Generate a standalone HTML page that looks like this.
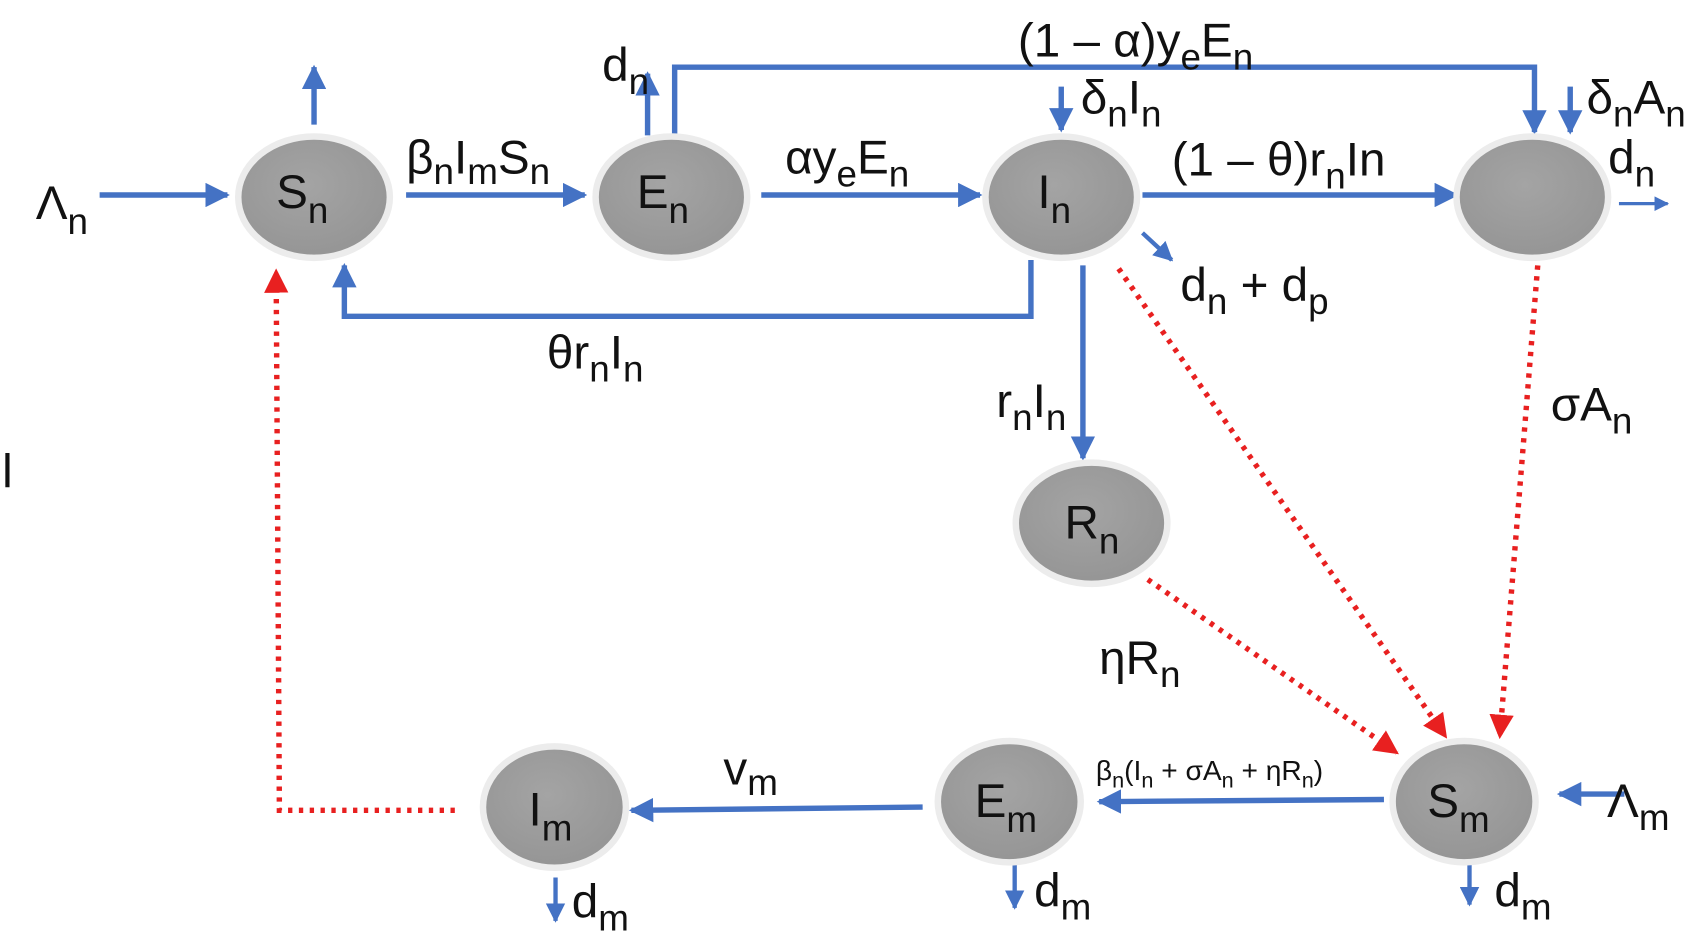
<!DOCTYPE html>
<html><head><meta charset="utf-8"><style>html,body{margin:0;padding:0;background:#fff}svg{display:block}text{font-family:"Liberation Sans",sans-serif;fill:#111}</style></head><body>
<svg width="1698" height="949" viewBox="0 0 1568 876" preserveAspectRatio="none" xmlns="http://www.w3.org/2000/svg">
<defs>
<marker id="b" viewBox="0 0 10 10" refX="9" refY="5" markerWidth="4.5" markerHeight="4.5" orient="auto"><path d="M0,0L10,5L0,10z" fill="#4472c4"/></marker>
<marker id="r" viewBox="0 0 10 10" refX="9" refY="5" markerWidth="4.5" markerHeight="4.5" orient="auto"><path d="M0,0L10,5L0,10z" fill="#e82020"/></marker>
<radialGradient id="g" cx="0.45" cy="0.4" r="0.6"><stop offset="0" stop-color="#a4a4a4"/><stop offset="1" stop-color="#959595"/></radialGradient>
</defs>
<g stroke="#4472c4" stroke-width="5" fill="none" marker-end="url(#b)">
<line x1="92" y1="180" x2="210" y2="180"/>
<line x1="375" y1="180" x2="540" y2="180"/>
<line x1="703" y1="180" x2="905" y2="180"/>
<line x1="1055" y1="180" x2="1345" y2="180"/>
<line x1="290" y1="115" x2="290" y2="62"/>
<line x1="598" y1="125" x2="598" y2="68"/>
<polyline points="623,125 623,62 1417,62 1417,122"/>
<line x1="980" y1="80" x2="980" y2="120"/>
<line x1="1450" y1="80" x2="1450" y2="122"/>
<line x1="1495" y1="188" x2="1540" y2="188" stroke-width="3"/>
<polyline points="952,240 952,292 318,292 318,245"/>
<line x1="1055" y1="215" x2="1082" y2="240" stroke-width="4"/>
<line x1="1000" y1="245" x2="1000" y2="423"/>
<line x1="1278" y1="738" x2="1015" y2="740"/>
<line x1="852" y1="745" x2="583" y2="748"/>
<line x1="1500" y1="733" x2="1440" y2="733"/>
<line x1="513" y1="810" x2="513" y2="850" stroke-width="4"/>
<line x1="937" y1="798" x2="937" y2="838" stroke-width="4"/>
<line x1="1357" y1="795" x2="1357" y2="835" stroke-width="4"/>
</g>
<g stroke="#e82020" stroke-width="5" fill="none" stroke-dasharray="4,6" marker-end="url(#r)">
<polyline points="420,748 258,748 255,250"/>
<line x1="1033" y1="248" x2="1335" y2="680"/>
<line x1="1420" y1="245" x2="1385" y2="680"/>
<line x1="1060" y1="535" x2="1290" y2="695"/>
</g>
<g fill="url(#g)" stroke="#ececec" stroke-width="6">
<ellipse cx="290" cy="182" rx="70" ry="56"/>
<ellipse cx="620" cy="182" rx="70" ry="56"/>
<ellipse cx="980" cy="182" rx="70" ry="56"/>
<ellipse cx="1415" cy="182" rx="70" ry="56"/>
<ellipse cx="1008" cy="483" rx="70" ry="56"/>
<ellipse cx="1352" cy="740" rx="66" ry="56"/>
<ellipse cx="932" cy="740" rx="66" ry="56"/>
<ellipse cx="512" cy="745" rx="66" ry="56"/>
</g>
<g font-size="44">
<text x="255" y="192">S<tspan font-size="34" dy="14">n</tspan></text>
<text x="588" y="192">E<tspan font-size="34" dy="14">n</tspan></text>
<text x="958" y="192">I<tspan font-size="34" dy="14">n</tspan></text>
<text x="983" y="497">R<tspan font-size="34" dy="14">n</tspan></text>
<text x="1318" y="754">S<tspan font-size="34" dy="14">m</tspan></text>
<text x="900" y="754">E<tspan font-size="34" dy="14">m</tspan></text>
<text x="488" y="762">I<tspan font-size="34" dy="14">m</tspan></text>
<text x="33" y="202">Λ<tspan font-size="34" dy="14">n</tspan></text>
<text x="375" y="160">β<tspan font-size="34" dy="10">n</tspan><tspan dy="-10">I</tspan><tspan font-size="34" dy="10">m</tspan><tspan dy="-10">S</tspan><tspan font-size="34" dy="10">n</tspan></text>
<text x="556" y="75">d<tspan font-size="34" dy="12">n</tspan></text>
<text x="940" y="52">(1 – α)y<tspan font-size="34" dy="12">e</tspan><tspan dy="-12">E</tspan><tspan font-size="34" dy="12">n</tspan></text>
<text x="725" y="160">αy<tspan font-size="34" dy="12">e</tspan><tspan dy="-12">E</tspan><tspan font-size="34" dy="12">n</tspan></text>
<text x="998" y="105">δ<tspan font-size="34" dy="12">n</tspan><tspan dy="-12">I</tspan><tspan font-size="34" dy="12">n</tspan></text>
<text x="1082" y="162">(1 – θ)r<tspan font-size="34" dy="12">n</tspan><tspan dy="-12">In</tspan></text>
<text x="1465" y="105">δ<tspan font-size="34" dy="12">n</tspan><tspan dy="-12">A</tspan><tspan font-size="34" dy="12">n</tspan></text>
<text x="1485" y="160">d<tspan font-size="34" dy="12">n</tspan></text>
<text x="1090" y="278">d<tspan font-size="34" dy="12">n</tspan><tspan dy="-12"> + d</tspan><tspan font-size="34" dy="12">p</tspan></text>
<text x="505" y="340">θr<tspan font-size="34" dy="12">n</tspan><tspan dy="-12">I</tspan><tspan font-size="34" dy="12">n</tspan></text>
<text x="920" y="385">r<tspan font-size="34" dy="12">n</tspan><tspan dy="-12">I</tspan><tspan font-size="34" dy="12">n</tspan></text>
<text x="1432" y="388">σA<tspan font-size="34" dy="12">n</tspan></text>
<text x="1015" y="622">ηR<tspan font-size="34" dy="12">n</tspan></text>
<text x="668" y="724">v<tspan font-size="34" dy="10">m</tspan></text>
<text x="1484" y="754">Λ<tspan font-size="34" dy="12">m</tspan></text>
<text x="528" y="847">d<tspan font-size="34" dy="12">m</tspan></text>
<text x="955" y="837">d<tspan font-size="34" dy="12">m</tspan></text>
<text x="1380" y="837">d<tspan font-size="34" dy="12">m</tspan></text>
<text x="2" y="450">l</text>
</g>
<text x="1012" y="720" font-size="26">β<tspan font-size="20" dy="7">n</tspan><tspan dy="-7">(I</tspan><tspan font-size="20" dy="7">n</tspan><tspan dy="-7"> + σA</tspan><tspan font-size="20" dy="7">n</tspan><tspan dy="-7"> + ηR</tspan><tspan font-size="20" dy="7">n</tspan><tspan dy="-7">)</tspan></text>
</svg>
</body></html>
